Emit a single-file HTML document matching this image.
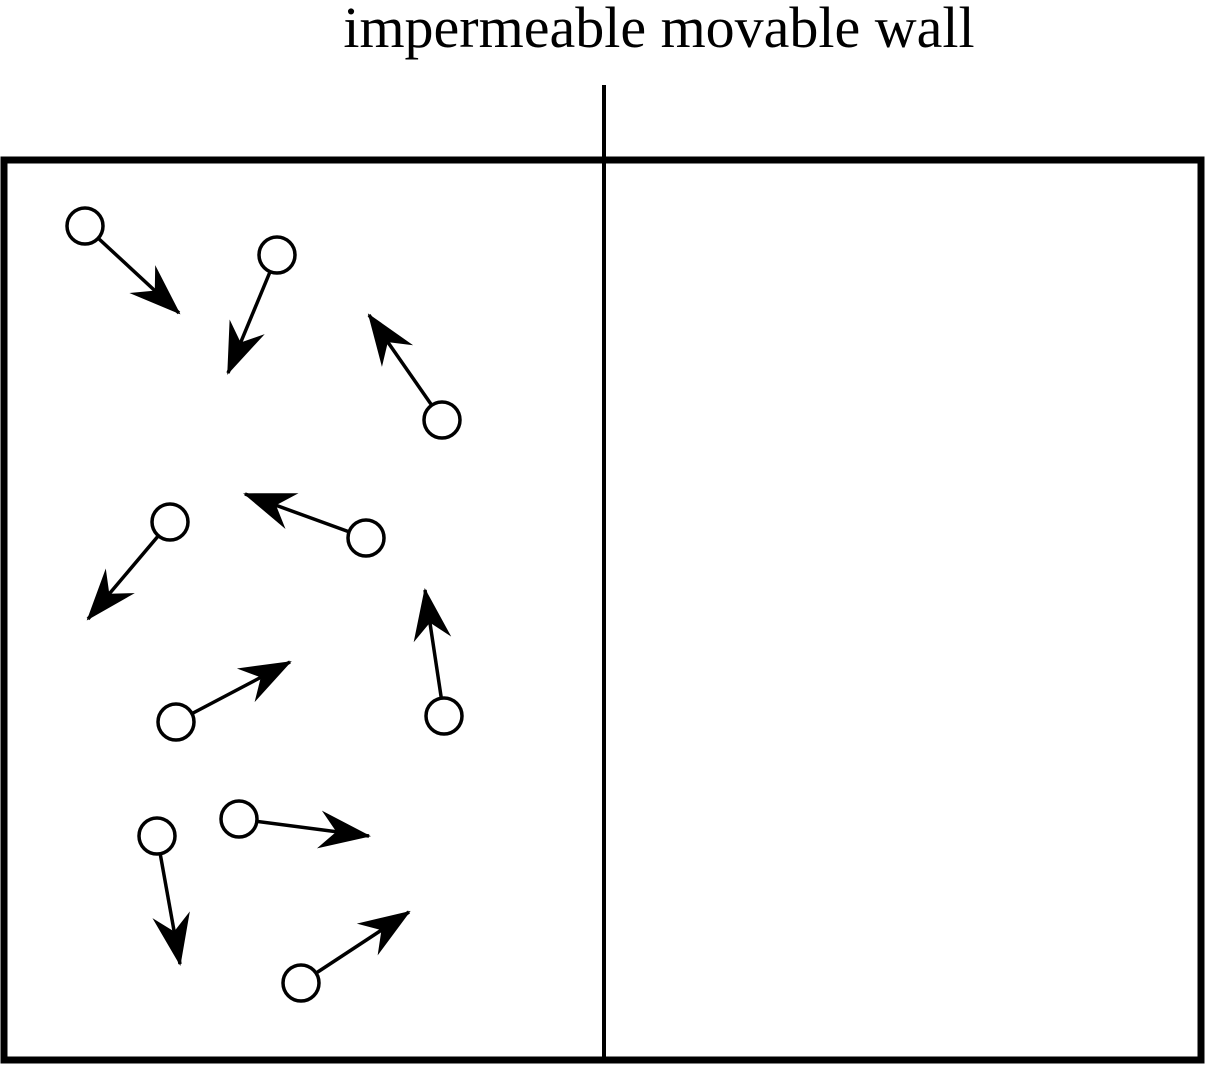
<!DOCTYPE html>
<html><head><style>html,body{margin:0;padding:0;background:#fff;}svg{display:block}</style></head>
<body>
<svg width="1208" height="1065" viewBox="0 0 1208 1065" xmlns="http://www.w3.org/2000/svg">
<defs>
<marker id="a" markerUnits="userSpaceOnUse" markerWidth="70" markerHeight="50" refX="50" refY="25" orient="auto" overflow="visible">
<path d="M52,25 L0,6 L17,25 L0,44 Z" fill="#000"/>
</marker>
</defs>
<text x="659" y="47" font-family="Liberation Serif, serif" font-size="58" text-anchor="middle">impermeable movable wall</text>
<rect x="4" y="160" width="1197" height="900" fill="none" stroke="#000" stroke-width="7"/>
<line x1="604" y1="85" x2="604" y2="1060" stroke="#000" stroke-width="4"/>
<g fill="none" stroke="#000" stroke-width="3.5">
<line x1="85" y1="226" x2="179" y2="313" marker-end="url(#a)"/>
<line x1="277" y1="255" x2="228" y2="373" marker-end="url(#a)"/>
<line x1="442" y1="420" x2="369" y2="315" marker-end="url(#a)"/>
<line x1="170" y1="522" x2="88" y2="619" marker-end="url(#a)"/>
<line x1="366" y1="538" x2="245" y2="494" marker-end="url(#a)"/>
<line x1="444" y1="716" x2="425" y2="590" marker-end="url(#a)"/>
<line x1="176" y1="722" x2="290" y2="662" marker-end="url(#a)"/>
<line x1="239" y1="819" x2="369" y2="836" marker-end="url(#a)"/>
<line x1="157" y1="836" x2="180" y2="964" marker-end="url(#a)"/>
<line x1="301" y1="983" x2="409" y2="912" marker-end="url(#a)"/>
</g>
<g fill="#fff" stroke="#000" stroke-width="3.5">
<circle cx="85" cy="226" r="18"/>
<circle cx="277" cy="255" r="18"/>
<circle cx="442" cy="420" r="18"/>
<circle cx="170" cy="522" r="18"/>
<circle cx="366" cy="538" r="18"/>
<circle cx="444" cy="716" r="18"/>
<circle cx="176" cy="722" r="18"/>
<circle cx="239" cy="819" r="18"/>
<circle cx="157" cy="836" r="18"/>
<circle cx="301" cy="983" r="18"/>
</g>
</svg>
</body></html>
